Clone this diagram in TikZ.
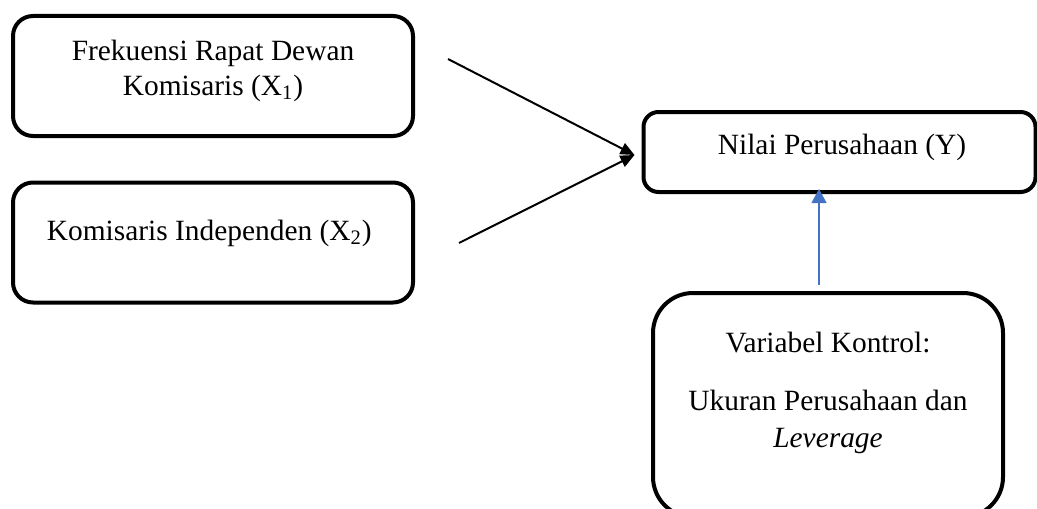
\documentclass[tikz,border=0pt]{standalone}
\usepackage{fontspec}
\setmainfont{Liberation Serif}
\usetikzlibrary{arrows.meta}
\definecolor{arrowblue}{HTML}{4472C4}

\begin{document}
\begin{tikzpicture}[x=0.5pt,y=-0.5pt,
  box/.style={draw, line width=2pt, rounded corners=#1},
  box/.default=10pt,
  txt/.style={align=center, inner sep=0pt, font=\fontsize{14.7}{17.5}\selectfont},
  arr/.style={line width=1pt, -{Triangle[length=7pt,width=6pt]}}
]
  \useasboundingbox (0,0) rectangle (1037,508);

  % Variabel independen: nama / posisi kotak / posisi teks / teks
  \foreach \name/\ybox/\ytxt/\tekst in {
    x1/76/70.5/{Frekuensi Rapat Dewan\\Komisaris (X\textsubscript{1})},
    x2/242.5/233/{Komisaris Independen (X\textsubscript{2})}
  }{
    \node[box, minimum width=200pt, minimum height=60pt] (\name) at (213,\ybox) {};
    \node[txt] (\name txt) at (213,\ytxt) {\tekst};
  }

  % Variabel dependen
  \node[box=7.5pt, minimum width=196pt, minimum height=40pt] (y) at (839.5,152) {};
  \node[txt] (ytxt) at (842,147) {Nilai Perusahaan (Y)};

  % Variabel kontrol (terpotong di bawah)
  \node[box=20pt, minimum width=175pt, minimum height=112pt] (ctrl) at (828,405) {};
  \node[txt] (ctrltxt) at (828,393) {Variabel Kontrol:\\[11.5pt]Ukuran Perusahaan dan\\[1pt]\textit{Leverage}};

  % Panah-panah
  \coordinate (s1) at (448,59);
  \coordinate (s2) at (459,243);
  \coordinate (s3) at (819,285);
  \draw[arr] (s1) -- ([yshift=-1.5pt,xshift=-3.5pt]y.west);
  \draw[arr] (s2) -- ([yshift=-1.5pt,xshift=-3.5pt]y.west);
  \draw[arrowblue, line width=0.6pt, -{Triangle[length=7pt,width=7.5pt]}]
    (s3) -- ([yshift=2.5pt]s3 |- y.south);

\end{tikzpicture}
\end{document}
